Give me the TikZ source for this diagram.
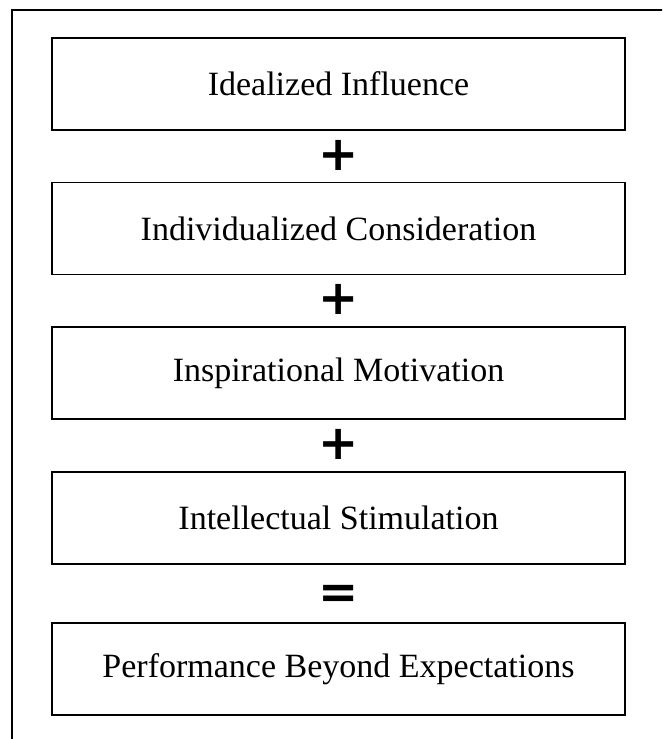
\documentclass[tikz,border=0pt]{standalone}
\usepackage{fontspec}
\setmainfont{Liberation Serif}
\newfontfamily\opfont{DejaVu Sans}
\usetikzlibrary{positioning,calc}

\tikzset{
	factor/.style={draw, line width=1.6pt, minimum width=573pt, minimum height=92pt, inner sep=0pt, font=\fontsize{34}{40}\selectfont},
	outcome/.style={factor, line width=2.6pt},
	op/.style={inner sep=0pt, font=\opfont\bfseries\fontsize{48}{48}\selectfont}
}

\begin{document}
\begin{tikzpicture}[x=1pt, y=1pt, node distance=51pt]
	\useasboundingbox (0,0) rectangle (662,-739);
	\clip (0,0) rectangle (662,-739);
	\draw [line width=2.8pt] (12,-10) rectangle (690,-770);
	
	\node [factor] (ii) at (338.5,-84) {Idealized Influence};
	\node [factor, below=of ii] (ic) {Individualized Consideration};
	\node [factor, below=of ic] (im) {Inspirational Motivation};
	\node [factor, below=of im] (is) {Intellectual Stimulation};
	\node [outcome, below=57pt of is] (pbe) {Performance Beyond Expectations};
	
	\node [op] (plus1) at ($(ii.south)!.48!(ic.north)$) {+};
	\node [op] (plus2) at ($(ic.south)!.48!(im.north)$) {+};
	\node [op] (plus3) at ($(im.south)!.48!(is.north)$) {+};
	\node [op] (eq) at ($(is.south)!.57!(pbe.north)$) {=};
\end{tikzpicture}
\end{document}
